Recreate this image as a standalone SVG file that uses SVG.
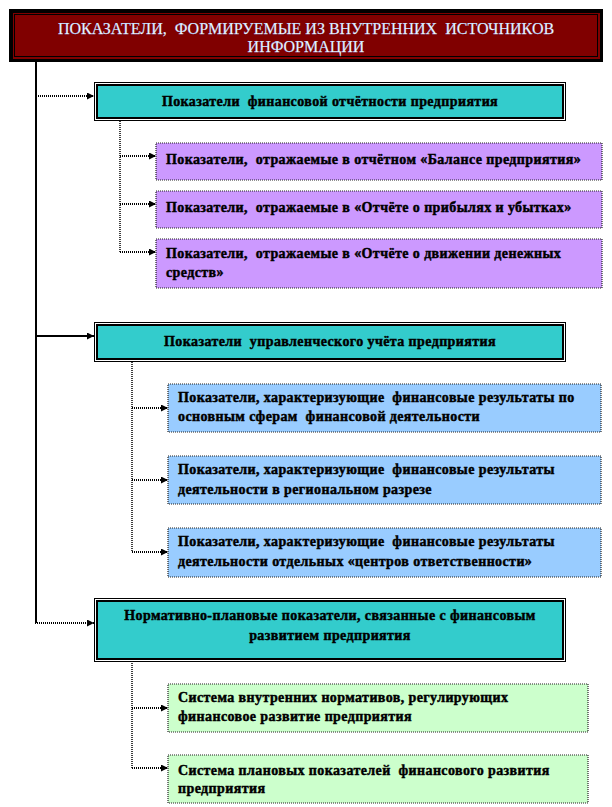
<svg xmlns="http://www.w3.org/2000/svg" width="612" height="807" viewBox="0 0 612 807">
<defs>
<style>
text{white-space:pre}
.title{font-family:"Liberation Serif","Times New Roman",serif;font-size:16px;fill:#f4fbff;stroke:#9cc8ff;stroke-width:0.25;text-anchor:middle}
.t{font-family:"Liberation Serif","Times New Roman",serif;font-size:14px;font-weight:bold;letter-spacing:0.4px;fill:#000;stroke:#000;stroke-width:0.45}
.c{text-anchor:middle}
.cy{fill:#33CCCC;stroke:#000;stroke-width:2}
.cyo{fill:#fff;stroke:#000;stroke-width:1}
.pu{fill:#CC99FF;stroke:#222;stroke-width:1.2;stroke-dasharray:1 1}
.bl{fill:#99CCFF;stroke:#222;stroke-width:1.2;stroke-dasharray:1 1}
.gr{fill:#CCFFCC;stroke:#222;stroke-width:1.2;stroke-dasharray:1 1}
.solid{fill:none;stroke:#000;stroke-width:2}
.dot{fill:none;stroke:#000;stroke-width:2;stroke-dasharray:1 1}
.dotv{fill:none;stroke:#000;stroke-width:1.5;stroke-dasharray:1 1}
</style>
<marker id="ah" viewBox="0 0 8 8" refX="8" refY="4" markerWidth="7" markerHeight="7" markerUnits="userSpaceOnUse" orient="auto">
<path d="M0,0 L8,4 L0,8 Z" fill="#000"/>
</marker>
</defs>

<g id="connectors">
<path class="solid" d="M36 62 V623"/>
<path class="dot" d="M36 96 H94" marker-end="url(#ah)"/>
<path class="solid" d="M36 336 H94" marker-end="url(#ah)"/>
<path class="dot" d="M35 623 H94" marker-end="url(#ah)"/>
<path class="dotv" d="M120 121 V252"/>
<path class="dot" d="M120 156 H156" marker-end="url(#ah)"/>
<path class="dot" d="M120 204 H156" marker-end="url(#ah)"/>
<path class="dot" d="M120 252 H156" marker-end="url(#ah)"/>
<path class="dotv" d="M132 362 V552"/>
<path class="dot" d="M132 408 H168" marker-end="url(#ah)"/>
<path class="dot" d="M132 480 H168" marker-end="url(#ah)"/>
<path class="dot" d="M132 552 H168" marker-end="url(#ah)"/>
<path class="dotv" d="M132 661 V768"/>
<path class="dot" d="M132 708 H168" marker-end="url(#ah)"/>
<path class="dot" d="M132 768 H168" marker-end="url(#ah)"/>
</g>

<g id="title">
<rect x="9" y="9" width="594" height="53" fill="#000"/>
<rect x="13" y="13" width="587" height="46" fill="#800000"/>
<rect x="14.5" y="14.5" width="583" height="42" fill="none" stroke="#000" stroke-width="1"/>
<text class="title" x="306" y="34">ПОКАЗАТЕЛИ,  ФОРМИРУЕМЫЕ ИЗ ВНУТРЕННИХ  ИСТОЧНИКОВ</text>
<text class="title" x="306" y="52">ИНФОРМАЦИИ</text>
</g>

<g id="fin">
<rect class="cyo" x="94.5" y="82.5" width="471" height="38"/>
<rect class="cy" x="97" y="85" width="466" height="33"/>
<text class="t c" x="330" y="106">Показатели  финансовой отчётности предприятия</text>
</g>
<g id="fin1">
<rect class="pu" x="156" y="143" width="446" height="37"/>
<text class="t" x="166" y="164">Показатели,  отражаемые в отчётном «Балансе предприятия»</text>
</g>
<g id="fin2">
<rect class="pu" x="156" y="191" width="446" height="37"/>
<text class="t" x="166" y="212">Показатели,  отражаемые в «Отчёте о прибылях и убытках»</text>
</g>
<g id="fin3">
<rect class="pu" x="156" y="239" width="446" height="49"/>
<text class="t" x="166" y="258">Показатели,  отражаемые в «Отчёте о движении денежных</text>
<text class="t" x="166" y="277">средств»</text>
</g>

<g id="mgmt">
<rect class="cyo" x="94.5" y="322.5" width="471" height="39"/>
<rect class="cy" x="97" y="325" width="466" height="34"/>
<text class="t c" x="330" y="346">Показатели  управленческого учёта предприятия</text>
</g>
<g id="mgmt1">
<rect class="bl" x="168" y="384" width="433" height="48"/>
<text class="t" x="178" y="402">Показатели, характеризующие  финансовые результаты по</text>
<text class="t" x="178" y="421">основным сферам  финансовой деятельности</text>
</g>
<g id="mgmt2">
<rect class="bl" x="168" y="456" width="433" height="48"/>
<text class="t" x="178" y="474">Показатели, характеризующие  финансовые результаты</text>
<text class="t" x="178" y="494">деятельности в региональном разрезе</text>
</g>
<g id="mgmt3">
<rect class="bl" x="168" y="528" width="433" height="49"/>
<text class="t" x="178" y="546">Показатели, характеризующие  финансовые результаты</text>
<text class="t" x="178" y="566">деятельности отдельных «центров ответственности»</text>
</g>

<g id="plan">
<rect class="cyo" x="94.5" y="598.5" width="471" height="63"/>
<rect class="cy" x="97" y="601" width="466" height="58"/>
<text class="t c" x="330" y="620">Нормативно-плановые показатели, связанные с финансовым</text>
<text class="t c" x="330" y="640">развитием предприятия</text>
</g>
<g id="plan1">
<rect class="gr" x="168" y="684" width="420" height="48"/>
<text class="t" x="178" y="702">Система внутренних нормативов, регулирующих</text>
<text class="t" x="178" y="721">финансовое развитие предприятия</text>
</g>
<g id="plan2">
<rect class="gr" x="168" y="755" width="420" height="48"/>
<text class="t" x="178" y="775">Система плановых показателей  финансового развития</text>
<text class="t" x="178" y="793">предприятия</text>
</g>
</svg>
